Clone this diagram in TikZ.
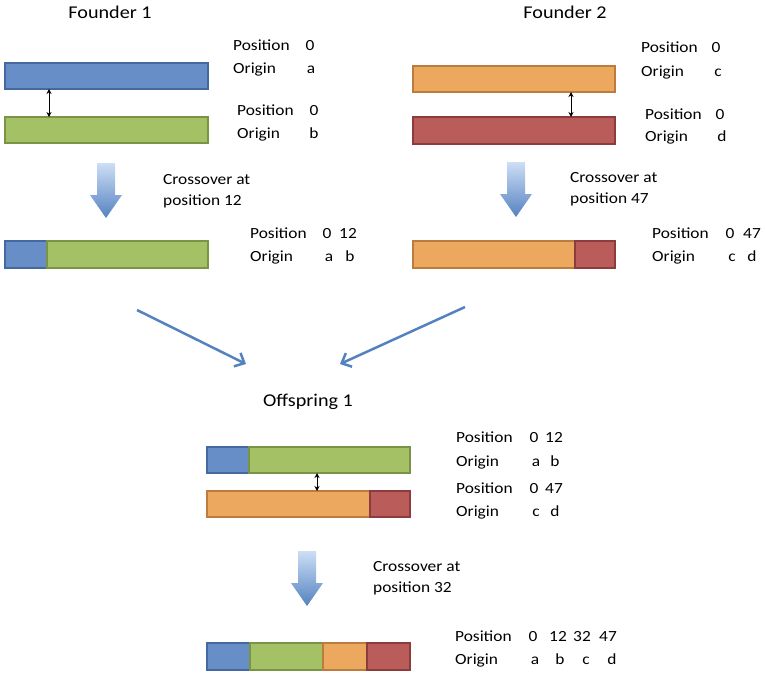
\documentclass[tikz,border=0pt]{standalone}
\usepackage{fontspec}
\setmainfont{Carlito}[FakeStretch=1.12]
\usetikzlibrary{arrows.meta}
\definecolor{bluF}{RGB}{104,142,199}
\definecolor{bluD}{RGB}{68,104,160}
\definecolor{grnF}{RGB}{164,194,101}
\definecolor{grnD}{RGB}{122,148,70}
\definecolor{orgF}{RGB}{236,168,95}
\definecolor{orgD}{RGB}{188,124,62}
\definecolor{redF}{RGB}{186,92,90}
\definecolor{redD}{RGB}{140,60,60}
\definecolor{arrB}{RGB}{84,130,192}
\definecolor{arrL}{RGB}{205,222,246}
\newcommand\segm[6]{\node[seg, fill=#2F, draw=#2D, minimum width={#5-#3}, minimum height={#6-#4}] (#1) at ({(#3+#5)/2},{(#4+#6)/2}) {};}
\newcommand\blockarr[2]{\shade[top color=arrL, bottom color=arrB] (#1-9,#2) -- (#1+9,#2) -- (#1+9,#2+32) -- (#1+16,#2+32) -- (#1,#2+55) -- (#1-16,#2+32) -- (#1-9,#2+32) -- cycle;}
\begin{document}
\begin{tikzpicture}[x=1pt,y=-1pt,
  seg/.style={line width=1.4pt, inner sep=0, outer sep=0},
  lbl/.style={font=\fontsize{15.5}{18}\selectfont, inner sep=0, text height=11pt, text depth=3pt},
  ttl/.style={font=\fontsize{18}{21}\selectfont, inner sep=0, text height=12pt, text depth=3pt},
  dbl/.style={{Stealth[length=5pt,width=5pt]}-{Stealth[length=5pt,width=5pt]}, line width=0.8pt, black},
  thin/.style={-{Straight Barb[length=8pt,width=15pt]}, line width=2.5pt, arrB}]
\useasboundingbox (0,0) rectangle (765,675);

% Titles
\node[ttl] (t1) at (110,14) {Founder 1};
\node[ttl] (t2) at (565,14) {Founder 2};
\node[ttl] (t3) at (308,402) {Offspring 1};

% Founder 1
\segm{f1a}{blu}{5}{63}{208}{89}
\segm{f1b}{grn}{5}{117}{208}{143}
\draw[dbl] ([xshift=44pt]f1a.south west) -- ([xshift=44pt]f1b.north west);
\node[lbl, anchor=west] (f1p1) at (233,46) {Position};
\node[lbl] (f1v1) at (310,46) {0};
\node[lbl, anchor=west] (f1o1) at (233,69) {Origin};
\node[lbl] (f1w1) at (311,69) {a};
\node[lbl, anchor=west] (f1p2) at (237,111) {Position};
\node[lbl] (f1v2) at (314,111) {0};
\node[lbl, anchor=west] (f1o2) at (237,134) {Origin};
\node[lbl] (f1w2) at (314,134) {b};

% Founder 2
\segm{f2a}{org}{413}{66}{615}{92}
\segm{f2b}{red}{413}{117}{615}{144}
\draw[dbl] ([xshift=158pt]f2a.south west) -- ([xshift=158pt]f2b.north west);
\node[lbl, anchor=west] (f2p1) at (641,48) {Position};
\node[lbl] (f2v1) at (716,48) {0};
\node[lbl, anchor=west] (f2o1) at (641,72) {Origin};
\node[lbl] (f2w1) at (718,72) {c};
\node[lbl, anchor=west] (f2p2) at (645,115) {Position};
\node[lbl] (f2v2) at (720,115) {0};
\node[lbl, anchor=west] (f2o2) at (645,137) {Origin};
\node[lbl] (f2w2) at (722,137) {d};

% Block arrows and crossover texts
\blockarr{106}{163}
\blockarr{516}{162}
\blockarr{307}{551}
\node[lbl, anchor=west] (c1a) at (163,180) {Crossover at};
\node[lbl, anchor=west] (c1b) at (163,201) {position 12};
\node[lbl, anchor=west] (c2a) at (570,178) {Crossover at};
\node[lbl, anchor=west] (c2b) at (570,199) {position 47};
\node[lbl, anchor=west] (c3a) at (373,567) {Crossover at};
\node[lbl, anchor=west] (c3b) at (373,588) {position 32};

% Recombinant founder 1
\segm{r1a}{blu}{5}{241}{47}{268}
\segm{r1b}{grn}{47}{241}{208}{268}
\node[lbl, anchor=west] (r1p) at (250,234) {Position};
\node[lbl] (r1v1) at (327,234) {0};
\node[lbl] (r1v2) at (348,234) {12};
\node[lbl, anchor=west] (r1o) at (250,257) {Origin};
\node[lbl] (r1w1) at (329,257) {a};
\node[lbl] (r1w2) at (350,257) {b};

% Recombinant founder 2
\segm{r2a}{org}{413}{241}{575}{268}
\segm{r2b}{red}{575}{241}{615}{268}
\node[lbl, anchor=west] (r2p) at (652,234) {Position};
\node[lbl] (r2v1) at (730,234) {0};
\node[lbl] (r2v2) at (752,234) {47};
\node[lbl, anchor=west] (r2o) at (652,257) {Origin};
\node[lbl] (r2w1) at (732,257) {c};
\node[lbl] (r2w2) at (752,257) {d};

% Converging arrows
\coordinate (la) at (137,310);
\coordinate (lb) at (246,364);
\coordinate (ra) at (465,307);
\coordinate (rb) at (340,364);
\draw[thin] (la) -- (lb);
\draw[thin] (ra) -- (rb);

% Offspring chromosomes
\segm{o1a}{blu}{207}{447}{249}{473}
\segm{o1b}{grn}{249}{447}{410}{473}
\segm{o2a}{org}{207}{491}{370}{517}
\segm{o2b}{red}{370}{491}{410}{517}
\draw[dbl] ([xshift=110pt]o1a.south west) -- ([xshift=110pt]o2a.north west);
\node[lbl, anchor=west] (o1p) at (456,438) {Position};
\node[lbl] (o1v1) at (534,438) {0};
\node[lbl] (o1v2) at (554,438) {12};
\node[lbl, anchor=west] (o1o) at (456,462) {Origin};
\node[lbl] (o1w1) at (536,462) {a};
\node[lbl] (o1w2) at (555,462) {b};
\node[lbl, anchor=west] (o2p) at (456,489) {Position};
\node[lbl] (o2v1) at (534,489) {0};
\node[lbl] (o2v2) at (554,489) {47};
\node[lbl, anchor=west] (o2o) at (456,512) {Origin};
\node[lbl] (o2w1) at (536,512) {c};
\node[lbl] (o2w2) at (555,512) {d};

% Final recombinant
\segm{fa}{blu}{207}{643}{250}{670}
\segm{fb}{grn}{250}{643}{323}{670}
\segm{fc}{org}{323}{643}{367}{670}
\segm{fd}{red}{367}{643}{410}{670}
\node[lbl, anchor=west] (fp) at (455,637) {Position};
\node[lbl] (fv1) at (533,637) {0};
\node[lbl] (fv2) at (558,637) {12};
\node[lbl] (fv3) at (582,637) {32};
\node[lbl] (fv4) at (608,637) {47};
\node[lbl, anchor=west] (fo) at (455,660) {Origin};
\node[lbl] (fw1) at (535,660) {a};
\node[lbl] (fw2) at (560,660) {b};
\node[lbl] (fw3) at (586,660) {c};
\node[lbl] (fw4) at (612,660) {d};
\end{tikzpicture}
\end{document}
